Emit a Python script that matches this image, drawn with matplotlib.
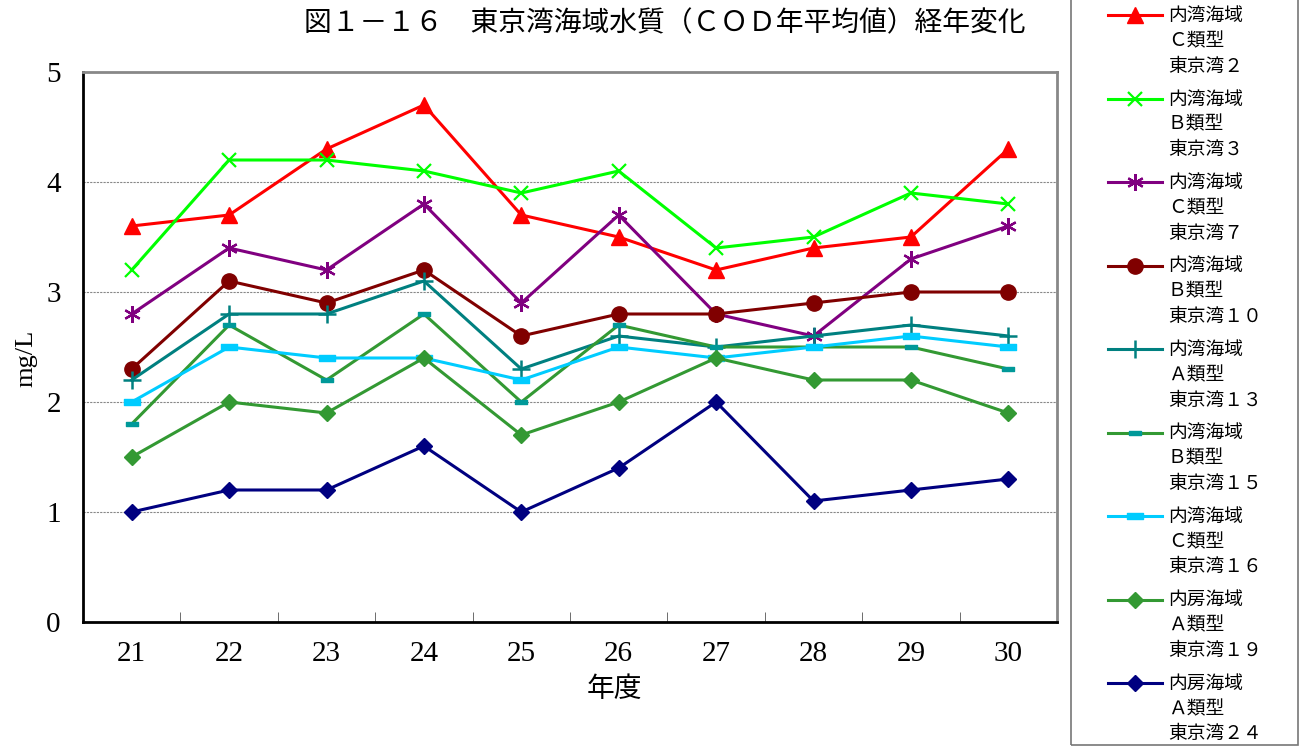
import numpy as np
import matplotlib.pyplot as plt
from matplotlib.path import Path
from matplotlib.patches import Rectangle

plt.rcParams['font.family'] = ['Liberation Serif', 'Noto Sans CJK JP', 'DejaVu Sans']

# data (COD annual mean, mg/L)
years = ['21', '22', '23', '24', '25', '26', '27', '28', '29', '30']
labels = [
    '内湾海域\nＣ類型\n東京湾２',
    '内湾海域\nＢ類型\n東京湾３',
    '内湾海域\nＣ類型\n東京湾７',
    '内湾海域\nＢ類型\n東京湾１０',
    '内湾海域\nＡ類型\n東京湾１３',
    '内湾海域\nＢ類型\n東京湾１５',
    '内湾海域\nＣ類型\n東京湾１６',
    '内房海域\nＡ類型\n東京湾１９',
    '内房海域\nＡ類型\n東京湾２４',
]
tokyo2 = [3.6, 3.7, 4.3, 4.7, 3.7, 3.5, 3.2, 3.4, 3.5, 4.3]
tokyo3 = [3.2, 4.2, 4.2, 4.1, 3.9, 4.1, 3.4, 3.5, 3.9, 3.8]
tokyo7 = [2.8, 3.4, 3.2, 3.8, 2.9, 3.7, 2.8, 2.6, 3.3, 3.6]
tokyo10 = [2.3, 3.1, 2.9, 3.2, 2.6, 2.8, 2.8, 2.9, 3.0, 3.0]
tokyo13 = [2.2, 2.8, 2.8, 3.1, 2.3, 2.6, 2.5, 2.6, 2.7, 2.6]
tokyo15 = [1.8, 2.7, 2.2, 2.8, 2.0, 2.7, 2.5, 2.5, 2.5, 2.3]
tokyo16 = [2.0, 2.5, 2.4, 2.4, 2.2, 2.5, 2.4, 2.5, 2.6, 2.5]
tokyo19 = [1.5, 2.0, 1.9, 2.4, 1.7, 2.0, 2.4, 2.2, 2.2, 1.9]
tokyo24 = [1.0, 1.2, 1.2, 1.6, 1.0, 1.4, 2.0, 1.1, 1.2, 1.3]

# flat rectangle marker
rect = Path([(-1, -0.4), (1, -0.4), (1, 0.4), (-1, 0.4), (-1, -0.4)],
            [Path.MOVETO, Path.LINETO, Path.LINETO, Path.LINETO, Path.CLOSEPOLY])

styles = [
    (tokyo2, dict(color='#FF0000', marker='^', ms=11)),
    (tokyo3, dict(color='#00FF00', marker='x', ms=10, mew=1.6)),
    (tokyo7, dict(color='#800080', marker=(6, 2, 0), ms=12, mew=1.6)),
    (tokyo10, dict(color='#800000', marker='o', ms=11)),
    (tokyo13, dict(color='#008080', marker='+', ms=13, mew=1.8)),
    (tokyo15, dict(color='#339933', marker=rect, ms=8, mfc='#009999', mec='#009999')),
    (tokyo16, dict(color='#00CCFF', marker=rect, ms=11, mfc='#00CCFF', mec='#00CCFF')),
    (tokyo19, dict(color='#339933', marker='D', ms=8)),
    (tokyo24, dict(color='#000080', marker='D', ms=8)),
]

fig = plt.figure(figsize=(13.06, 7.47), dpi=100)
ax = fig.add_axes([83 / 1306, 1 - 622 / 747, 974 / 1306, 550 / 747])

x = np.arange(len(years))
handles = []
for (vals, st), lab in zip(styles, labels):
    h, = ax.plot(x, vals, lw=2.2, label=lab, **st)
    handles.append(h)

ax.set_xlim(-0.5, len(years) - 0.5)
ax.set_ylim(0, 5)
ax.set_yticks([0, 1, 2, 3, 4, 5])
ax.set_xticks(x)
ax.set_xticklabels(years)
ax.set_xticks(np.arange(0.5, len(years) - 0.5), minor=True)
ax.tick_params(axis='x', which='major', length=0, pad=14, labelsize=21)
ax.tick_params(axis='x', which='minor', direction='in', length=7, color='#555555')
ax.tick_params(axis='y', length=0, pad=16, labelsize=21)
ax.yaxis.grid(True, linestyle=(0, (2, 1)), color='#888888', lw=0.8)
ax.set_axisbelow(True)

for s in ['left', 'bottom']:
    ax.spines[s].set_color('black')
    ax.spines[s].set_linewidth(2)
for s in ['top', 'right']:
    ax.spines[s].set_color('#888888')
    ax.spines[s].set_linewidth(2)

ax.set_xlabel('年度', fontsize=20)
ax.xaxis.set_label_coords(0.546, -0.1)
ax.set_ylabel('mg/L', fontsize=19)
ax.yaxis.set_label_coords(-0.047, 0.48)

fig.text(665 / 1306, 1 - 24 / 747, '図１－１６　東京湾海域水質（ＣＯＤ年平均値）経年変化',
         ha='center', va='center', fontsize=20)

# legend frame (open at the top, as in the original)
fig.patches.append(Rectangle((1071 / 1306, 2 / 747), 227 / 1306, 1.0,
                             transform=fig.transFigure, fill=False,
                             edgecolor='#777777', lw=1.2))

leg = fig.legend(handles=handles, loc='upper left',
                 bbox_to_anchor=(1108 / 1306, 1 - 8 / 747),
                 fontsize=13.5, frameon=False, borderaxespad=0, borderpad=0,
                 handlelength=2.9, handleheight=1.0, handletextpad=0.3,
                 labelspacing=0.85)
for t in leg.get_texts():
    t.set_linespacing(1.6)
# put each handle next to the first line of its label
for col in leg._legend_handle_box.get_children():
    for item in col.get_children():
        item.align = 'top'

fig.savefig('out.png', dpi=100)
